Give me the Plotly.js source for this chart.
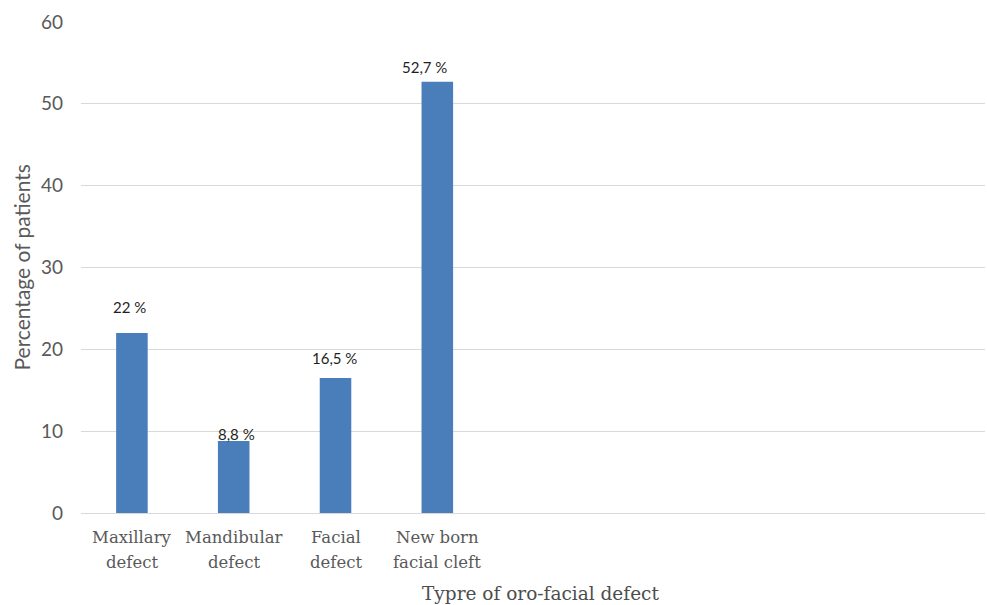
<!DOCTYPE html>
<html>
<head>
<meta charset="utf-8">
<script src="https://cdn.plot.ly/plotly-3.0.1.min.js"></script>
<style>
  html, body { margin: 0; padding: 0; background: #fff; }
  #chart { width: 987px; height: 605px; }
</style>
</head>
<body>
<div id="chart"></div>
<script>
// Share of patients by type of oro-facial defect
const categories = ["Maxillary<br>defect", "Mandibular<br>defect", "Facial<br>defect", "New born<br>facial cleft"];
const percentages = [22, 8.8, 16.5, 52.7];
const yTicks = [0, 10, 20, 30, 40, 50, 60];

// Offsets (px) of each value label from the top-centre of its bar
const labelLift = [26, 7, 20, 15];
const labelSlide = [-2, 3, -1, -13];

const SERIF = "'DejaVu Serif', 'Liberation Serif', serif";
const SANS = "Lato, 'Open Sans', sans-serif";

const fmt = v => String(v).replace(".", ",") + " %";

const trace = {
  type: "bar",
  x: categories,
  y: percentages,
  width: 0.31,
  marker: { color: "#4a7ebb" },
  hoverinfo: "x+y"
};

// value labels
const valueLabels = percentages.map((v, i) => ({
  x: categories[i],
  y: v,
  xref: "x",
  yref: "y",
  text: fmt(v),
  showarrow: false,
  yanchor: "middle",
  yshift: labelLift[i],
  xshift: labelSlide[i],
  font: { family: SANS, size: 15, color: "#1f1f1f" }
}));

// two-line category labels under the axis
const catLabels = [];
categories.forEach(c => {
  c.split("<br>").forEach((line, k) => {
    catLabels.push({
      x: c,
      y: 0,
      xref: "x",
      yref: "y",
      text: line,
      showarrow: false,
      yanchor: "middle",
      yshift: -24 - 25 * k,
      font: { family: SERIF, size: 16.5, color: "#595959" }
    });
  });
});

const titles = [
  {
    xref: "paper", yref: "paper", x: 0.5, y: 0,
    xshift: 7, yshift: -80,
    yanchor: "middle", xanchor: "center",
    text: "Typre of oro-facial defect",
    showarrow: false,
    font: { family: SERIF, size: 18.5, color: "#4d4d4d" }
  },
  {
    xref: "paper", yref: "paper", x: 0, y: 0.5,
    xshift: -60, yshift: 0,
    xanchor: "center", yanchor: "middle",
    textangle: -90,
    text: "Percentage of patients",
    showarrow: false,
    font: { family: SANS, size: 21, color: "#595959" }
  }
];

const layout = {
  width: 987,
  height: 605,
  margin: { l: 81, r: 2, t: 22, b: 92 },
  paper_bgcolor: "#ffffff",
  plot_bgcolor: "#ffffff",
  showlegend: false,
  xaxis: {
    type: "category",
    range: [-0.5, 8.38],
    showgrid: false,
    showline: true,
    linecolor: "#d9d9d9",
    linewidth: 1,
    zeroline: false,
    ticks: "",
    showticklabels: false
  },
  yaxis: {
    range: [0, 60],
    tickvals: yTicks,
    ticktext: yTicks.map(String),
    showgrid: true,
    gridcolor: "#d9d9d9",
    gridwidth: 1,
    zeroline: true,
    zerolinecolor: "#d9d9d9",
    showline: false,
    ticks: "",
    ticklabelstandoff: 17,
    tickfont: { family: SANS, size: 19, color: "#595959" }
  },
  annotations: valueLabels.concat(catLabels, titles)
};

Plotly.newPlot("chart", [trace], layout, { displayModeBar: false, staticPlot: true });
</script>
</body>
</html>
